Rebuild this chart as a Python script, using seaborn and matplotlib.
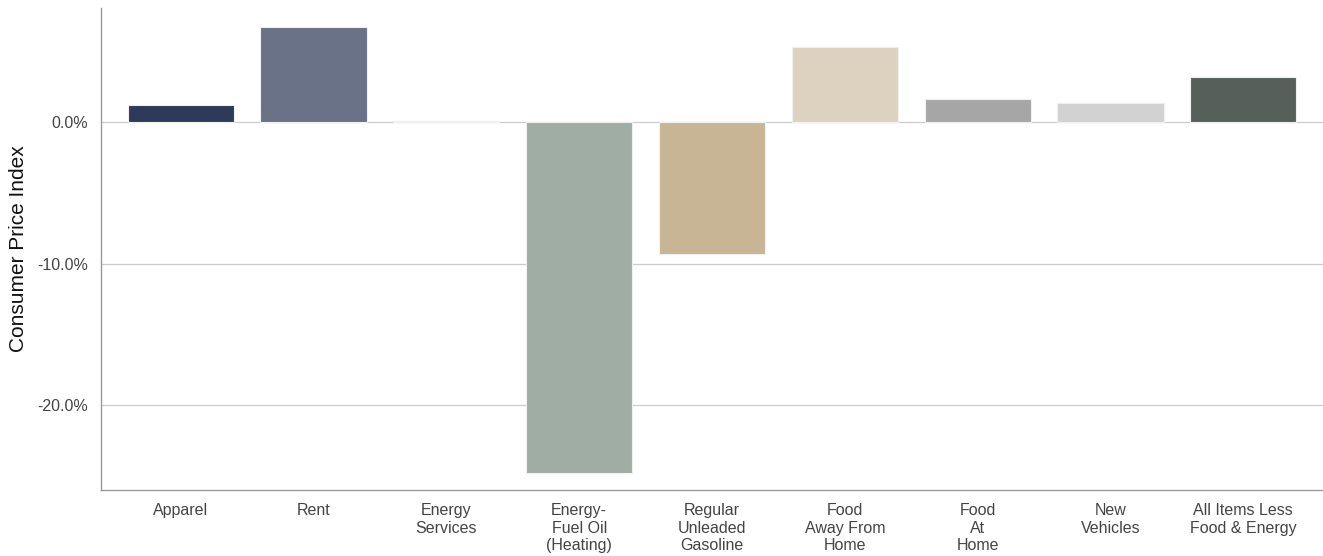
import matplotlib
matplotlib.use("Agg")
import matplotlib.pyplot as plt
import matplotlib.ticker as mticker
import seaborn as sns
import pandas as pd

categories = [
    "Apparel",
    "Rent",
    "Energy\nServices",
    "Energy-\nFuel Oil\n(Heating)",
    "Regular\nUnleaded\nGasoline",
    "Food\nAway From\nHome",
    "Food\nAt\nHome",
    "New\nVehicles",
    "All Items Less\nFood & Energy",
]
cpi_change = [1.2, 6.7, 0.05, -24.8, -9.35, 5.3, 1.65, 1.35, 3.15]
bar_colors = [
    "#2e3a5a", "#6a7288", "#c5cbc8", "#9fada5", "#c7b595",
    "#ddd2bf", "#a6a6a6", "#d2d2d2", "#56605a",
]

df = pd.DataFrame({"category": categories, "change": cpi_change})

sns.set_theme(style="white")
plt.rcParams["font.family"] = ["Liberation Sans", "DejaVu Sans"]

fig = plt.figure(figsize=(13.23, 5.56), dpi=100)
ax = fig.add_axes([0.0763, 0.1187, 0.9237, 0.8669])

sns.barplot(
    data=df, x="category", y="change", hue="category",
    palette=bar_colors, saturation=1, legend=False, width=0.8,
    edgecolor="#f0f0f0", linewidth=0.8, ax=ax, zorder=3,
)

ax.set_xlim(-0.6, len(categories) - 0.4)
ax.set_ylim(-26, 8.05)
ax.set_yticks([0, -10, -20])
ax.yaxis.set_major_formatter(mticker.FuncFormatter(lambda v, _: f"{v:.1f}%"))
ax.grid(axis="y", color="#cccccc", linewidth=0.9, zorder=0)
ax.grid(axis="x", visible=False)

for side in ("top", "right"):
    ax.spines[side].set_visible(False)
for side in ("left", "bottom"):
    ax.spines[side].set_color("#999999")
    ax.spines[side].set_linewidth(1.0)

ax.tick_params(axis="both", length=0, labelsize=11.5, labelcolor="#444444")
ax.tick_params(axis="x", pad=9.5)
ax.tick_params(axis="y", pad=9.5)
for lbl in ax.get_xticklabels():
    lbl.set_linespacing(1.22)
    lbl.set_verticalalignment("top")

ax.set_xlabel("")
ax.set_ylabel("Consumer Price Index", fontsize=15, color="#111111")
ax.yaxis.set_label_coords(-0.0597, 0.5)

fig.savefig("out.png", dpi=100)
